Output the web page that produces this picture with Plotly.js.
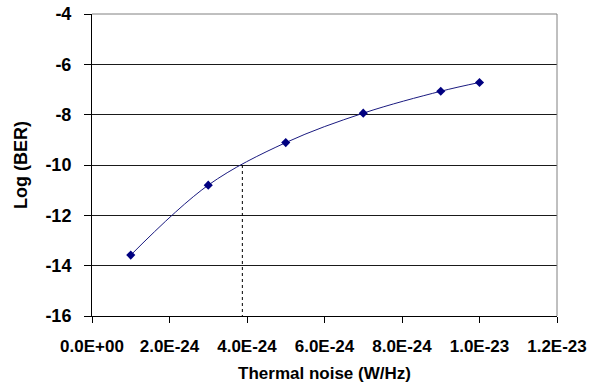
<!DOCTYPE html>
<html>
<head>
<meta charset="utf-8">
<script src="https://cdn.plot.ly/plotly-3.0.1.min.js"></script>
<style>
html,body{margin:0;padding:0;background:#fff;}
#chart{width:592px;height:388px;}
#chart .xtick text, #chart .ytick text, #chart .g-xtitle text, #chart .g-ytitle text {font-weight:bold !important;}
</style>
</head>
<body>
<div id="chart"></div>
<script>
// Data
const noise = [1e-24, 3e-24, 5e-24, 7e-24, 9e-24, 1e-23];
const logBER = [-13.58, -10.80, -9.11, -7.94, -7.07, -6.72];

// Threshold guide (BER = 1e-10)
const thresholdX = [3.88e-24, 3.88e-24];
const thresholdY = [-10, -16];

const xTickVals = [0, 2e-24, 4e-24, 6e-24, 8e-24, 1e-23, 1.2e-23];
const xTickText = ['0.0E+00', '2.0E-24', '4.0E-24', '6.0E-24', '8.0E-24', '1.0E-23', '1.2E-23'];
const yTickVals = [-16, -14, -12, -10, -8, -6, -4];
const yTickText = ['-16', '-14', '-12', '-10', '-8', '-6', '-4'];

const FONT = 'Liberation Sans, Arial, sans-serif';

const traces = [
  {
    x: thresholdX, y: thresholdY, type: 'scatter', mode: 'lines',
    line: {color: '#000000', width: 1, dash: 'dot'},
    hoverinfo: 'skip', showlegend: false
  },
  {
    x: noise, y: logBER, type: 'scatter', mode: 'lines+markers',
    line: {color: '#1a1a80', width: 1, shape: 'spline', smoothing: 1},
    marker: {symbol: 'diamond', size: 7, color: '#000080'},
    showlegend: false
  }
];

const layout = {
  width: 592, height: 388,
  margin: {l: 92, r: 35, t: 14, b: 72},
  paper_bgcolor: '#ffffff', plot_bgcolor: '#ffffff',
  font: {family: FONT, color: '#000000'},
  showlegend: false,
  xaxis: {
    range: [0, 1.2e-23],
    tickmode: 'array', tickvals: xTickVals, ticktext: xTickText,
    tickfont: {family: FONT, size: 17, weight: 700, color: '#000'},
    ticks: 'outside', ticklen: 6, tickcolor: '#000', tickwidth: 1,
    ticklabelstandoff: 9,
    showline: true, linecolor: '#000', linewidth: 1,
    showgrid: false, zeroline: false,
    title: {text: 'Thermal noise (W/Hz)', font: {family: FONT, size: 17, weight: 700, color: '#000'}, standoff: 11}
  },
  yaxis: {
    range: [-16, -4],
    tickmode: 'array', tickvals: yTickVals, ticktext: yTickText,
    tickfont: {family: FONT, size: 18, weight: 700, color: '#000'},
    ticks: 'outside', ticklen: 7, tickcolor: '#000', tickwidth: 1,
    ticklabelstandoff: 9,
    showline: true, linecolor: '#000', linewidth: 1,
    showgrid: true, gridcolor: '#1a1a1a', gridwidth: 1,
    zeroline: false,
    title: {text: 'Log (BER)', font: {family: FONT, size: 18, weight: 700, color: '#000'}, standoff: 13}
  },
  shapes: [
    {type: 'line', xref: 'paper', yref: 'paper', x0: 0, x1: 1, y0: 1, y1: 1, line: {color: '#808080', width: 1}, layer: 'above'},
    {type: 'line', xref: 'paper', yref: 'paper', x0: 1, x1: 1, y0: 0, y1: 1, line: {color: '#808080', width: 1}, layer: 'above'}
  ]
};

Plotly.newPlot('chart', traces, layout, {displayModeBar: false, staticPlot: true});
</script>
</body>
</html>
